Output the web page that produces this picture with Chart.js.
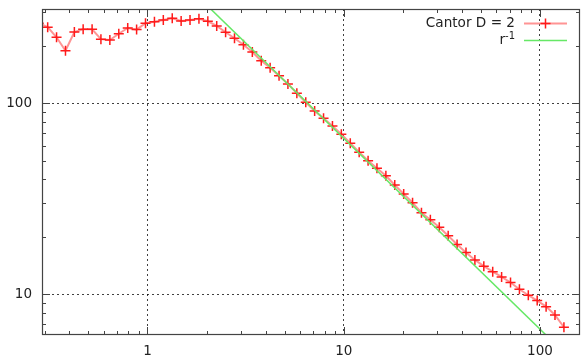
<!DOCTYPE html>
<html>
<head>
<meta charset="utf-8">
<script src="https://cdn.jsdelivr.net/npm/chart.js@4.4.1/dist/chart.umd.min.js"></script>
<style>
  body{margin:0;background:#fff;}
  canvas{display:block;}
</style>
</head>
<body>
<canvas id="cantor" width="582" height="357"></canvas>
<script>
// r values (log spaced) and the measured curve
const rValues=[0.279,0.310,0.344,0.382,0.424,0.470,0.522,0.579,0.643,0.714,
  0.793,0.880,0.977,1.085,1.204,1.337,1.484,1.647,1.829,2.030,
  2.253,2.501,2.776,3.083,3.422,3.799,4.217,4.682,5.196,5.769,
  6.405,7.109,7.892,8.762,9.725,10.80,11.99,13.31,14.77,16.40,
  18.20,20.21,22.43,24.90,27.64,30.69,34.07,37.82,41.99,46.61,
  51.75,57.45,63.77,70.80,78.60,87.24,96.83,107.5,119.3,132.5];
const cantorValues=[263,250.5,221.8,188.5,236.4,244.2,244.2,216.8,214.7,231.4,
  248.1,243.4,262.6,267.7,273.3,279.0,270.0,273.3,277.6,269.0,
  254.2,235.6,219.1,202.8,185.8,167.2,153.7,139.5,126.3,112.8,
  101.2,91.1,83.4,75.9,68.8,61.7,55.4,50.0,45.6,41.7,
  37.3,33.5,30.1,26.7,24.5,22.4,20.2,18.2,16.5,15.1,
  14.0,13.1,12.3,11.5,10.6,9.86,9.24,8.59,7.77,6.70];
// r^-1 reference line end points
const fitR=[0.2,200];
const fitValues=[3275,3.275];

const xTicks=[1,10,100];
const yTicks=[10,100];
const xMinor=[0.3,0.4,0.5,0.6,0.7,0.8,0.9,2,3,4,5,6,7,8,9,20,30,40,50,60,70,80,90];
const yMinor=[7,8,9,20,30,40,50,60,70,80,90,200,300];

const FONT='"DejaVu Sans", Verdana, sans-serif';
const RED='#ff1a1a', RED_LINE='rgba(255,90,90,0.65)', GREEN='#66e866';

function noPad(s){
  s.paddingTop=0;s.paddingBottom=0;s.paddingLeft=0;s.paddingRight=0;
}

// gnuplot style frame with inward ticks, plus a right aligned key
const framePlugin={
  id:'frame',
  afterDraw(chart){
    const ctx=chart.ctx, a=chart.chartArea;
    const xs=chart.scales.x, ys=chart.scales.y;
    ctx.save();
    ctx.strokeStyle='#444';
    ctx.lineWidth=1.2;
    ctx.strokeRect(a.left+0.5,a.top+0.5,a.right-a.left-1,a.bottom-a.top-1);
    ctx.lineWidth=1;
    function vt(v,len){
      const p=Math.round(xs.getPixelForValue(v))+0.5;
      ctx.beginPath();
      ctx.moveTo(p,a.bottom);ctx.lineTo(p,a.bottom-len);
      ctx.moveTo(p,a.top);ctx.lineTo(p,a.top+len);
      ctx.stroke();
    }
    function ht(v,len){
      const p=Math.round(ys.getPixelForValue(v))+0.5;
      ctx.beginPath();
      ctx.moveTo(a.left,p);ctx.lineTo(a.left+len,p);
      ctx.moveTo(a.right,p);ctx.lineTo(a.right-len,p);
      ctx.stroke();
    }
    xTicks.forEach(v=>vt(v,8));
    xMinor.forEach(v=>vt(v,4));
    yTicks.forEach(v=>ht(v,8));
    yMinor.forEach(v=>ht(v,4));

    // key
    ctx.fillStyle='#222';
    ctx.textAlign='right';
    ctx.textBaseline='middle';
    ctx.font='13.6px '+FONT;
    ctx.fillText('Cantor D = 2',515,23);
    ctx.strokeStyle=RED_LINE;ctx.lineWidth=2;
    ctx.beginPath();ctx.moveTo(524,23.5);ctx.lineTo(567,23.5);ctx.stroke();
    ctx.strokeStyle=RED;ctx.lineWidth=1.5;
    ctx.beginPath();ctx.moveTo(540.5,23.5);ctx.lineTo(550.5,23.5);
    ctx.moveTo(545.5,18.5);ctx.lineTo(545.5,28.5);ctx.stroke();

    ctx.font='10px '+FONT;
    ctx.fillText('-1',515,36);
    const w=ctx.measureText('-1').width;
    ctx.font='13.6px '+FONT;
    ctx.fillText('r',515-w,40);
    ctx.strokeStyle=GREEN;ctx.lineWidth=1.5;
    ctx.beginPath();ctx.moveTo(524,40.5);ctx.lineTo(567,40.5);ctx.stroke();
    ctx.restore();
  }
};

new Chart(document.getElementById('cantor'),{
  type:'line',
  data:{
    datasets:[{
      label:'r-1',
      data:fitR.map((r,i)=>({x:r,y:fitValues[i]})),
      borderColor:GREEN,
      borderWidth:1.5,
      pointRadius:0,
      clip:0,
      order:0
    },{
      label:'Cantor D = 2',
      data:rValues.map((r,i)=>({x:r,y:cantorValues[i]})),
      borderColor:RED_LINE,
      borderWidth:2,
      pointStyle:'cross',
      pointRadius:5,
      pointBorderColor:RED,
      pointBorderWidth:1.5,
      pointBackgroundColor:RED,
      clip:0,
      order:1
    }]
  },
  options:{
    responsive:false,
    animation:false,
    layout:{autoPadding:false,padding:{top:9,right:2,left:0,bottom:0}},
    plugins:{legend:{display:false},tooltip:{enabled:false}},
    scales:{
      x:{
        type:'logarithmic',
        min:0.29,max:160,
        afterBuildTicks:s=>{s.ticks=xTicks.map(v=>({value:v}));},
        afterFit:s=>{s.height=22;noPad(s);},
        grid:{color:'rgba(0,0,0,0.75)',drawTicks:false},
        border:{display:false,dash:[2,3]},
        ticks:{padding:8,color:'#222',font:{family:FONT,size:13.5},callback:v=>String(v),maxRotation:0}
      },
      y:{
        type:'logarithmic',
        min:6.1,max:312,
        afterBuildTicks:s=>{s.ticks=yTicks.map(v=>({value:v}));},
        afterFit:s=>{s.width=42;noPad(s);},
        grid:{color:'rgba(0,0,0,0.75)',drawTicks:false},
        border:{display:false,dash:[2,3]},
        ticks:{padding:10,color:'#222',font:{family:FONT,size:13.5},callback:v=>String(v)}
      }
    }
  },
  plugins:[framePlugin]
});
</script>
</body>
</html>
